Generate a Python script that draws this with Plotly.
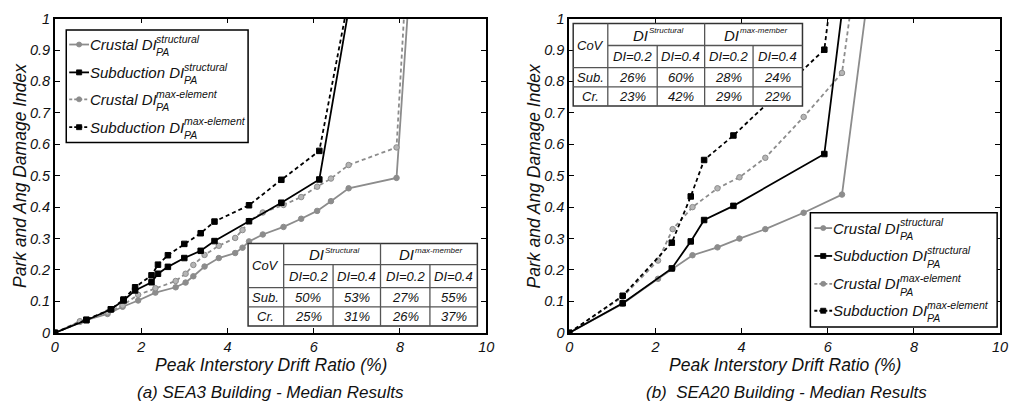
import plotly.graph_objects as go

W, H = 1018, 411
FONT = "Liberation Sans, Arial, sans-serif"
GRAY = "#8c8c8c"
BLACK = "#000000"
TXT = "#111111"

# ---------------- data: (a) SEA3 building ----------------
a_sub_x = [0, 0.73, 1.3, 1.59, 1.86, 2.24, 2.39, 2.62, 3.0, 3.38, 3.7, 4.5, 5.25, 6.13, 7.0]
a_sub_struct = [0, 0.04, 0.075, 0.103, 0.135, 0.161, 0.188, 0.21, 0.238, 0.261, 0.292, 0.355, 0.414, 0.488, 1.18]
a_sub_maxel = [0, 0.042, 0.075, 0.106, 0.145, 0.183, 0.217, 0.247, 0.283, 0.317, 0.354, 0.406, 0.487, 0.579, 1.2]
a_cr_x = [0, 0.58, 1.22, 1.57, 1.93, 2.33, 2.80, 3.03, 3.21, 3.47, 3.80, 4.18, 4.35, 4.5, 4.82, 5.30, 5.71, 6.08, 6.40, 6.81, 7.92, 8.25]
a_cr_struct = [0, 0.035, 0.06, 0.083, 0.103, 0.128, 0.145, 0.16, 0.18, 0.211, 0.238, 0.254, 0.271, 0.291, 0.313, 0.337, 0.363, 0.388, 0.419, 0.46, 0.493, 1.16]
a_cr_maxel = [0, 0.037, 0.065, 0.087, 0.121, 0.142, 0.165, 0.188, 0.216, 0.248, 0.277, 0.302, 0.327, 0.356, 0.383, 0.407, 0.432, 0.465, 0.491, 0.534, 0.59, 1.385]

# ---------------- data: (b) SEA20 building ----------------
b_sub_x = [0, 1.24, 2.38, 2.82, 3.13, 3.81, 5.92, 6.4]
b_sub_struct = [0, 0.094, 0.205, 0.291, 0.359, 0.404, 0.569, 1.099]
b_sub_maxel = [0, 0.118, 0.287, 0.434, 0.55, 0.628, 0.901, 1.43]
b_cr_x = [0, 1.24, 2.06, 2.4, 2.86, 3.44, 3.95, 4.55, 5.44, 6.33, 7.0]
b_cr_struct = [0, 0.093, 0.172, 0.205, 0.247, 0.272, 0.30, 0.33, 0.382, 0.44, 1.148]
b_cr_maxel = [0, 0.115, 0.23, 0.33, 0.40, 0.46, 0.495, 0.557, 0.687, 0.827, 1.499]

# ---------------- tables (CoV) ----------------
table_groups = ["Structural", "max-member"]
table_cols = ["DI=0.2", "DI=0.4", "DI=0.2", "DI=0.4"]
table_rows = ["Sub.", "Cr."]
table_a = [["50%", "53%", "27%", "55%"], ["25%", "31%", "26%", "37%"]]
table_b = [["26%", "60%", "28%", "24%"], ["23%", "42%", "29%", "22%"]]

x_ticks = [0, 2, 4, 6, 8, 10]
series_names = ["Crustal DI", "Subduction DI", "Crustal DI", "Subduction DI"]
series_sups = ["structural", "structural", "max-element", "max-element"]
series_sub = "PA"

captions = ["(a) SEA3 Building - Median Results", "(b)\u00a0 SEA20 Building - Median Results"]
x_title = "Peak Interstory Drift Ratio (%)"
y_title = "Park and Ang Damage Index"

# ---------------- helpers ----------------
def px(x):
    return x / W

def py(y):
    return 1 - y / H

CW = {' ': 278, 'C': 722, 'r': 333, 'u': 556, 's': 500, 't': 278, 'a': 556, 'l': 222,
      'D': 722, 'I': 278, 'S': 667, 'b': 556, 'd': 556, 'c': 500, 'i': 222, 'o': 556,
      'n': 556, 'm': 833, 'x': 500, '-': 333, 'e': 556, 'P': 667, 'A': 667}

def tw(s, size):
    return sum(CW.get(c, 556) for c in s) * size / 1000.0

fig = go.Figure()

styles = [
    dict(color=GRAY, dash="solid", symbol="circle", mfill=GRAY),
    dict(color=BLACK, dash="solid", symbol="square", mfill=BLACK),
    dict(color=GRAY, dash="4px,3px", symbol="circle", mfill="#b5b5b5"),
    dict(color=BLACK, dash="4px,3px", symbol="square", mfill=BLACK),
]

def add_series(xc, cs, cm, xs, ss, sm, xa, ya):
    data = [(xc, cs, 0), (xc, cm, 2), (xs, ss, 1), (xs, sm, 3)]
    for xv, yv, k in data:
        st = styles[k]
        fig.add_trace(go.Scatter(
            x=xv, y=yv, mode="lines+markers", xaxis=xa, yaxis=ya, showlegend=False,
            line=dict(color=st["color"], width=1.8, dash=st["dash"]),
            marker=dict(symbol=st["symbol"], size=5.5 if st["symbol"] == "circle" else 5.5,
                        color=st["mfill"], line=dict(color=st["color"], width=1)),
            cliponaxis=True, hoverinfo="skip"))

add_series(a_cr_x, a_cr_struct, a_cr_maxel, a_sub_x, a_sub_struct, a_sub_maxel, "x", "y")
add_series(b_cr_x, b_cr_struct, b_cr_maxel, b_sub_x, b_sub_struct, b_sub_maxel, "x2", "y2")

shapes = []
annots = []

def text(x, y, s, size, xanchor="center", yanchor="middle", angle=0):
    annots.append(dict(x=px(x), y=py(y), xref="paper", yref="paper", text=s, showarrow=False,
                       xanchor=xanchor, yanchor=yanchor, textangle=angle, borderpad=0,
                       font=dict(family=FONT, size=size, color=TXT, style="italic")))

def line(x0, y0, x1, y1, color="#333333", width=1.3, dash="solid"):
    shapes.append(dict(type="line", xref="paper", yref="paper", x0=px(x0), y0=py(y0),
                       x1=px(x1), y1=py(y1), line=dict(color=color, width=width, dash=dash)))

def rect(x0, y0, x1, y1, color="#000000", width=1.5, fill="white"):
    shapes.append(dict(type="rect", xref="paper", yref="paper", x0=px(x0), y0=py(y0),
                       x1=px(x1), y1=py(y1), fillcolor=fill, line=dict(color=color, width=width)))

def legend(box, sx0, sx1, tx, ys):
    rect(*box, color="#000000", width=1.5)
    for k in range(4):
        st = styles[k]
        y = ys[k]
        line(sx0, y, sx1, y, color=st["color"], width=1.8,
             dash="solid" if st["dash"] == "solid" else "3px,2px")
        mx = (sx0 + sx1) / 2
        r = 2.6
        shapes.append(dict(type="circle" if st["symbol"] == "circle" else "rect",
                           xref="paper", yref="paper", x0=px(mx - r), x1=px(mx + r),
                           y0=py(y + r), y1=py(y - r), fillcolor=st["mfill"] if k != 2 else GRAY,
                           line=dict(color=st["color"], width=0.8)))
        name = series_names[k]
        text(tx, y, name, 15, xanchor="left")
        w = tw(name, 15)
        text(tx + w + 0.5, y - 6, series_sups[k], 10.5, xanchor="left")
        text(tx + w + 0.5, y + 8, series_sub, 10.5, xanchor="left")

def table(cols, rows, vals):
    x0, x1, y0, y1 = cols[0], cols[-1], rows[0], rows[-1]
    rect(x0, y0, x1, y1, color="#333333", width=1.5)
    inner = "#555555"
    line(cols[1], rows[1], x1, rows[1], color=inner)
    line(x0, rows[2], x1, rows[2], color=inner)
    line(x0, rows[3], x1, rows[3], color=inner)
    line(cols[1], y0, cols[1], y1, color=inner)
    line(cols[3], y0, cols[3], y1, color=inner)
    line(cols[2], rows[1], cols[2], y1, color=inner)
    line(cols[4], rows[1], cols[4], y1, color=inner)
    text((cols[0] + cols[1]) / 2, (rows[0] + rows[2]) / 2, "CoV", 13)
    for g in range(2):
        cx = (cols[1 + 2 * g] + cols[3 + 2 * g]) / 2
        cy = (rows[0] + rows[1]) / 2 + 1
        wd = tw("DI", 15)
        ws = tw(table_groups[g], 8)
        start = cx - (wd + ws) / 2
        text(start, cy, "DI", 15, xanchor="left")
        text(start + wd + 1, cy - 5, table_groups[g], 8, xanchor="left")
    for c in range(4):
        text((cols[1 + c] + cols[2 + c]) / 2, (rows[1] + rows[2]) / 2, table_cols[c], 13)
    for r in range(2):
        cy = (rows[2 + r] + rows[3 + r]) / 2
        text((cols[0] + cols[1]) / 2, cy, table_rows[r], 13)
        for c in range(4):
            text((cols[1 + c] + cols[2 + c]) / 2, cy, vals[r][c], 13)

# legends
legend((63, 23, 247, 140), 66, 86, 86, [38, 67, 95, 124])
legend((816, 213, 1005, 332), 820, 838, 838, [229, 258, 287, 315])

# tables
table([247, 283, 333, 381, 431, 479], [245, 267, 291, 311, 331], table_a)
table([576, 611, 661, 709, 758, 808], [16, 39, 62, 82, 102], table_b)

# axis titles and captions
for x0, x1 in [(51.5, 488), (572, 1008)]:
    text(x0 - 36, 174.5, y_title, 17.5, angle=-90)
    text((x0 + x1) / 2, 371, x_title, 17.5)
text(270, 400, captions[0], 17)
text(792, 400, captions[1], 17)

ax_common = dict(showline=True, linecolor="#000000", linewidth=1.8, mirror="ticks",
                 ticks="inside", ticklen=5, tickcolor="#000000", tickwidth=1,
                 showgrid=False, zeroline=False,
                 tickfont=dict(family=FONT, size=14.5, color=TXT, style="italic"))

fig.update_layout(
    width=W, height=H, margin=dict(l=0, r=0, t=0, b=0),
    paper_bgcolor="white", plot_bgcolor="white", showlegend=False,
    xaxis=dict(domain=[px(51.5), px(488)], range=[0, 10], tickvals=x_ticks, anchor="y", **ax_common),
    yaxis=dict(domain=[py(338), py(11)], range=[0, 1], dtick=0.1, tick0=0, anchor="x", **ax_common),
    xaxis2=dict(domain=[px(572), px(1008)], range=[0, 10], tickvals=x_ticks, anchor="y2", **ax_common),
    yaxis2=dict(domain=[py(338), py(11)], range=[0, 1], dtick=0.1, tick0=0, anchor="x2", **ax_common),
    shapes=shapes, annotations=annots,
)

fig.write_html("out.html")
